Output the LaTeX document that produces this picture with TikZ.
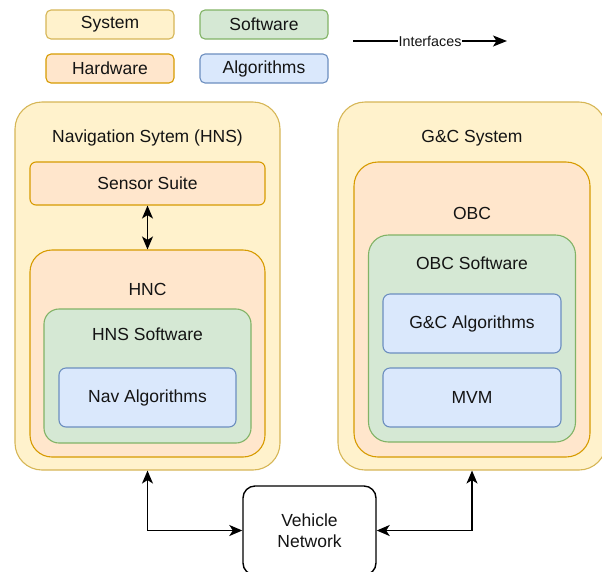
\documentclass[tikz,border=0pt]{standalone}
\usepackage{fontspec}
\setmainfont{Liberation Sans}
\usetikzlibrary{arrows.meta}

\definecolor{sysfill}{HTML}{FFF2CC}
\definecolor{sysline}{HTML}{D6B656}
\definecolor{hwfill}{HTML}{FFE6CC}
\definecolor{hwline}{HTML}{D79B00}
\definecolor{swfill}{HTML}{D5E8D4}
\definecolor{swline}{HTML}{82B366}
\definecolor{algfill}{HTML}{DAE8FC}
\definecolor{algline}{HTML}{6C8EBF}
\definecolor{txt}{HTML}{141414}

\tikzset{
  blk/.style={draw, line width=1.1pt, inner sep=0pt, text=txt, font=\fontsize{17.5}{21}\selectfont},
  sysbox/.style={blk, fill=sysfill, draw=sysline},
  hwbox/.style={blk, fill=hwfill, draw=hwline},
  swbox/.style={blk, fill=swfill, draw=swline},
  algbox/.style={blk, fill=algfill, draw=algline, rounded corners=7pt},
  keybox/.style={blk, rounded corners=5pt, minimum width=128pt, minimum height=29pt,
    font=\fontsize{15.5}{18}\selectfont},
  title/.style={text=txt, inner sep=0pt, font=\fontsize{17.5}{21}\selectfont},
  link/.style={line width=1.6pt, {Stealth[length=13pt,width=11pt,inset=3.5pt]}-{Stealth[length=13pt,width=11pt,inset=3.5pt]}},
}

\begin{document}
\begin{tikzpicture}[x=1pt, y=-1pt]
\useasboundingbox (0,0) rectangle (602,571);
\clip (0,0) rectangle (602,571);

% legend
\node[keybox, sysbox, rounded corners=5pt] (kSys) at (110,24.5) {System};
\node[keybox, swbox, rounded corners=5pt] (kSw) at (264,24.5) {Software};
\node[keybox, hwbox, rounded corners=5pt] (kHw) at (110,68.5) {Hardware};
\node[keybox, algbox, rounded corners=5pt] (kAlg) at (264,68.5) {Algorithms};
\coordinate (ifA) at (353,41);
\coordinate (ifB) at (507,41);
\draw[line width=1.4pt, -{Stealth[length=14pt,width=11pt,inset=3.5pt]}] (ifA) -- (ifB)
  node[midway, fill=white, inner sep=1pt, text=txt, font=\fontsize{14.3}{17}\selectfont] (ifLbl) {Interfaces};

% navigation system
\node[sysbox, rounded corners=27pt, minimum width=265pt, minimum height=368pt] (hns) at (147.5,286) {};
\node[title] (hnsT) at (147.5,138) {Navigation Sytem (HNS)};
\node[hwbox, rounded corners=6pt, minimum width=235pt, minimum height=43pt] (sens) at (147.5,183.5) {Sensor Suite};
\node[hwbox, rounded corners=22pt, minimum width=235pt, minimum height=207pt] (hnc) at (147.5,353.5) {};
\node[title] (hncT) at (147.5,289) {HNC};
\node[swbox, rounded corners=15pt, minimum width=207pt, minimum height=134pt] (hsw) at (147.5,376) {};
\node[title] (hswT) at (147.5,334) {HNS Software};
\node[algbox, minimum width=177pt, minimum height=59pt] (nav) at (147.5,397.5) {Nav Algorithms};

% guidance and control system
\node[sysbox, rounded corners=27pt, minimum width=268pt, minimum height=368pt] (gnc) at (472,286) {};
\node[title] (gncT) at (472,138) {G\&C System};
\node[hwbox, rounded corners=24pt, minimum width=236pt, minimum height=295pt] (obc) at (472,309.5) {};
\node[title] (obcT) at (472,213) {OBC};
\node[swbox, rounded corners=20pt, minimum width=207pt, minimum height=207pt] (osw) at (472,338.5) {};
\node[title] (oswT) at (472,263) {OBC Software};
\node[algbox, minimum width=178pt, minimum height=59pt] (gca) at (472,323.5) {G\&C Algorithms};
\node[algbox, minimum width=178pt, minimum height=59pt] (mvm) at (472,397.5) {MVM};

% vehicle network
\node[blk, draw=black, fill=white, line width=1.4pt, rounded corners=12pt, minimum width=133pt, minimum height=89pt, align=center] (vn) at (309.5,530.5) {Vehicle\\Network};

% interfaces
\draw[link] (sens.south) -- (hnc.north);
\draw[link] (hns.south) |- (vn.west);
\draw[link] (gnc.south) |- (vn.east);
\end{tikzpicture}
\end{document}
